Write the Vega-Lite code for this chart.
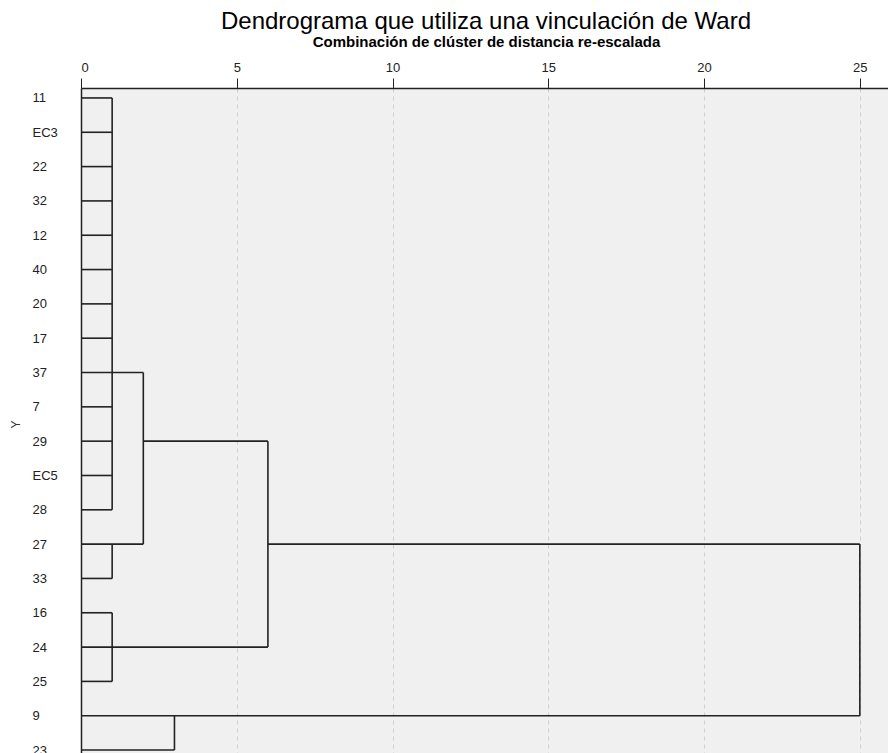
{
  "$schema": "https://vega.github.io/schema/vega-lite/v6.json",
  "width": 810,
  "height": 672,
  "padding": {"left": 9, "top": 10, "right": 0, "bottom": 0},
  "background": "white",
  "title": {
    "text": "Dendrograma que utiliza una vinculación de Ward",
    "font": "Liberation Sans",
    "fontSize": 24,
    "fontWeight": "normal",
    "color": "#000000",
    "anchor": "middle",
    "offset": 0
  },
  "config": {
    "view": {"fill": "#f0f0f0", "stroke": null}
  },
  "data": {
    "values": [
      {"x": 0, "x2": 1, "y": "11", "y2": "11"},
      {"x": 0, "x2": 1, "y": "EC3", "y2": "EC3"},
      {"x": 0, "x2": 1, "y": "22", "y2": "22"},
      {"x": 0, "x2": 1, "y": "32", "y2": "32"},
      {"x": 0, "x2": 1, "y": "12", "y2": "12"},
      {"x": 0, "x2": 1, "y": "40", "y2": "40"},
      {"x": 0, "x2": 1, "y": "20", "y2": "20"},
      {"x": 0, "x2": 1, "y": "17", "y2": "17"},
      {"x": 0, "x2": 2, "y": "37", "y2": "37"},
      {"x": 0, "x2": 1, "y": "7", "y2": "7"},
      {"x": 0, "x2": 1, "y": "29", "y2": "29"},
      {"x": 2, "x2": 6, "y": "29", "y2": "29"},
      {"x": 0, "x2": 1, "y": "EC5", "y2": "EC5"},
      {"x": 0, "x2": 1, "y": "28", "y2": "28"},
      {"x": 0, "x2": 2, "y": "27", "y2": "27"},
      {"x": 6, "x2": 25, "y": "27", "y2": "27"},
      {"x": 0, "x2": 1, "y": "33", "y2": "33"},
      {"x": 0, "x2": 1, "y": "16", "y2": "16"},
      {"x": 0, "x2": 6, "y": "24", "y2": "24"},
      {"x": 0, "x2": 1, "y": "25", "y2": "25"},
      {"x": 0, "x2": 25, "y": "9", "y2": "9"},
      {"x": 0, "x2": 3, "y": "23", "y2": "23"},
      {"x": 1, "x2": 1, "y": "11", "y2": "28"},
      {"x": 1, "x2": 1, "y": "27", "y2": "33"},
      {"x": 2, "x2": 2, "y": "37", "y2": "27"},
      {"x": 1, "x2": 1, "y": "16", "y2": "25"},
      {"x": 6, "x2": 6, "y": "29", "y2": "24"},
      {"x": 3, "x2": 3, "y": "9", "y2": "23"},
      {"x": 25, "x2": 25, "y": "27", "y2": "9"}
    ]
  },
  "mark": {"type": "rule", "color": "#222222", "strokeWidth": 1.6},
  "encoding": {
    "x": {
      "field": "x",
      "type": "quantitative",
      "scale": {"domain": [0, 26], "nice": false, "zero": false},
      "axis": {
        "orient": "top",
        "values": [0, 5, 10, 15, 20, 25],
        "title": "Combinación de clúster de distancia re-escalada",
        "titleFont": "Liberation Sans",
        "titleFontSize": 15,
        "titleFontWeight": "bold",
        "titleColor": "#000000",
        "titlePadding": 12,
        "labelFont": "Liberation Sans",
        "labelFontSize": 13,
        "labelColor": "#222222",
        "labelPadding": 4,
        "tickSize": 10,
        "tickColor": "#222222",
        "domainColor": "#222222",
        "domainWidth": 1.5,
        "grid": true,
        "gridColor": "#cfcfcf",
        "gridDash": [4, 4],
        "gridWidth": 1
      }
    },
    "x2": {"field": "x2"},
    "y": {
      "field": "y",
      "type": "nominal",
      "scale": {
        "type": "point",
        "padding": 0.29,
        "domain": ["11","EC3","22","32","12","40","20","17","37","7","29","EC5","28","27","33","16","24","25","9","23"]
      },
      "axis": {
        "title": "Y",
        "titleFont": "Liberation Sans",
        "titleFontSize": 12,
        "titleFontWeight": "normal",
        "titleColor": "#333333",
        "titlePadding": 10,
        "labelFont": "Liberation Sans",
        "labelFontSize": 13,
        "labelColor": "#222222",
        "labelAlign": "left",
        "labelPadding": 49,
        "ticks": false,
        "domainColor": "#222222",
        "domainWidth": 1.5,
        "grid": false
      }
    },
    "y2": {"field": "y2"}
  }
}
